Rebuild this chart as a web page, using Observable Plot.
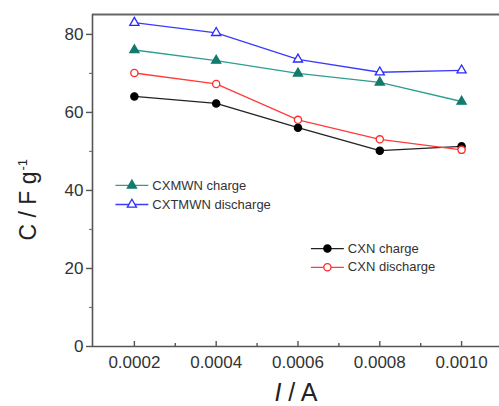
<!DOCTYPE html>
<html>
<head>
<meta charset="utf-8">
<script src="https://cdn.jsdelivr.net/npm/d3@7"></script>
<script src="https://cdn.jsdelivr.net/npm/@observablehq/plot@0.6"></script>
<style>
  html, body { margin: 0; padding: 0; background: #fff; }
  svg { font-family: "Liberation Sans", Arial, sans-serif; }
</style>
</head>
<body>
<div id="chart"></div>
<script>
// Data
const currents = [0.0002, 0.0004, 0.0006, 0.0008, 0.0010];
const cxtmwnDischarge = [83.0, 80.4, 73.6, 70.3, 70.8];
const cxmwnCharge = [76.0, 73.3, 70.0, 67.7, 62.8];
const cxnDischarge = [70.1, 67.3, 58.1, 53.1, 50.4];
const cxnCharge = [64.1, 62.3, 56.1, 50.2, 51.3];

const seriesNames = ["CXMWN charge", "CXTMWN discharge", "CXN charge", "CXN discharge"];
const xTicks = [0.0002, 0.0004, 0.0006, 0.0008, 0.0010];
const xMinorTicks = [0.0003, 0.0005, 0.0007, 0.0009];
const yTicks = [0, 20, 40, 60, 80];
const yMinorTicks = [10, 30, 50, 70];

// Styles
const styles = {
  "CXMWN charge": {stroke: "#2e9e90", markStroke: "#137a6c", fill: "#137a6c", symbol: "triangle"},
  "CXTMWN discharge": {stroke: "#3a3aff", markStroke: "#2a2aff", fill: "#fff", symbol: "triangle"},
  "CXN charge": {stroke: "#222", markStroke: "#000", fill: "#000", symbol: "circle"},
  "CXN discharge": {stroke: "#ff3b3b", markStroke: "#ff2a2a", fill: "#fff", symbol: "circle"}
};
const seriesValues = {
  "CXMWN charge": cxmwnCharge,
  "CXTMWN discharge": cxtmwnDischarge,
  "CXN charge": cxnCharge,
  "CXN discharge": cxnDischarge
};
const drawOrder = ["CXN charge", "CXN discharge", "CXMWN charge", "CXTMWN discharge"];

const rows = drawOrder.flatMap(s => currents.map((c, i) => ({series: s, x: c, y: seriesValues[s][i]})));

const xDomain = [0.0000976, 0.0010927];
const yDomain = [0, 85.1];

// Legend layout (in data units)
const legendLayout = [
  {series: "CXMWN charge", x1: 0.0001537, x2: 0.0002342, y: 41.3},
  {series: "CXTMWN discharge", x1: 0.0001537, x2: 0.0002342, y: 36.4},
  {series: "CXN charge", x1: 0.0006317, x2: 0.0007122, y: 25.1},
  {series: "CXN discharge", x1: 0.0006317, x2: 0.0007122, y: 20.3}
];

const symR = s => s === "triangle" ? 3.4 : 3.6;

const marks = [];
// frame lines
marks.push(Plot.ruleY([yDomain[1]], {stroke: "#666", strokeWidth: 1.8}));
marks.push(Plot.ruleX([xDomain[0]], {stroke: "#555", strokeWidth: 1.6}));
marks.push(Plot.ruleY([0], {stroke: "#555", strokeWidth: 1.6}));

// axes
marks.push(Plot.axisY({ticks: yTicks, tickSize: 6, tickPadding: 3, tickFormat: d => String(d), fontSize: 17, stroke: "#555", strokeWidth: 1.4, fill: "#333", label: null}));
marks.push(Plot.axisY({ticks: yMinorTicks, tickSize: 3, tickFormat: () => "", stroke: "#777", strokeWidth: 1.2, label: null}));
marks.push(Plot.axisX({ticks: xTicks, tickSize: 0, tickPadding: 9, tickFormat: d3.format(".4f"), fontSize: 17, fill: "#333", label: null}));
marks.push(Plot.axisX({ticks: xTicks, tickSize: -5, tickFormat: () => "", stroke: "#555", strokeWidth: 1.4, label: null}));
marks.push(Plot.axisX({ticks: xMinorTicks, tickSize: -3, tickFormat: () => "", stroke: "#555", strokeWidth: 1.4, label: null}));

// series
for (const s of drawOrder) {
  const st = styles[s];
  const data = rows.filter(r => r.series === s);
  marks.push(Plot.line(data, {x: "x", y: "y", stroke: st.stroke, strokeWidth: 1.3}));
  marks.push(Plot.dot(data, {x: "x", y: "y", symbol: st.symbol, r: symR(st.symbol), fill: st.fill, stroke: st.markStroke, strokeWidth: 1.3}));
}

// legends
for (const L of legendLayout) {
  const st = styles[L.series];
  marks.push(Plot.link([L], {x1: "x1", x2: "x2", y1: "y", y2: "y", stroke: st.stroke, strokeWidth: 1.3}));
  marks.push(Plot.dot([L], {x: d => (d.x1 + d.x2) / 2, y: "y", symbol: st.symbol, r: symR(st.symbol), fill: st.fill, stroke: st.markStroke, strokeWidth: 1.3}));
  marks.push(Plot.text([L], {x: "x2", y: "y", text: "series", textAnchor: "start", dx: 4, fontSize: 13, fill: "#333"}));
}

// axis titles
marks.push(Plot.text(["C / F g"], {frameAnchor: "left", dx: -64, dy: 60, rotate: -90, fontSize: 23, fill: "#222", className: "ylab"}));
marks.push(Plot.text(["I / A"], {frameAnchor: "bottom", dx: 0, dy: 54, fontSize: 25, fill: "#222", className: "xlab"}));

const chart = Plot.plot({
  width: 499,
  height: 406,
  marginLeft: 92,
  marginTop: 14,
  marginRight: 0,
  marginBottom: 60,
  x: {type: "linear", domain: xDomain},
  y: {type: "linear", domain: yDomain},
  style: {fontFamily: "'Liberation Sans', Arial, sans-serif", background: "#fff"},
  marks
});
document.getElementById("chart").appendChild(chart);

// superscript on y label, italic I on x label
const yl = d3.select(chart).select("g.ylab text");
if (!yl.empty()) {
  yl.text(null);
  yl.append("tspan").text("C / F g");
  yl.append("tspan").attr("font-size", 13).attr("dy", -9).attr("dx", 1).text("-1");
}
const xl = d3.select(chart).select("g.xlab text");
if (!xl.empty()) {
  xl.text(null);
  xl.append("tspan").attr("font-style", "italic").text("I");
  xl.append("tspan").text(" / A");
}
</script>
</body>
</html>
